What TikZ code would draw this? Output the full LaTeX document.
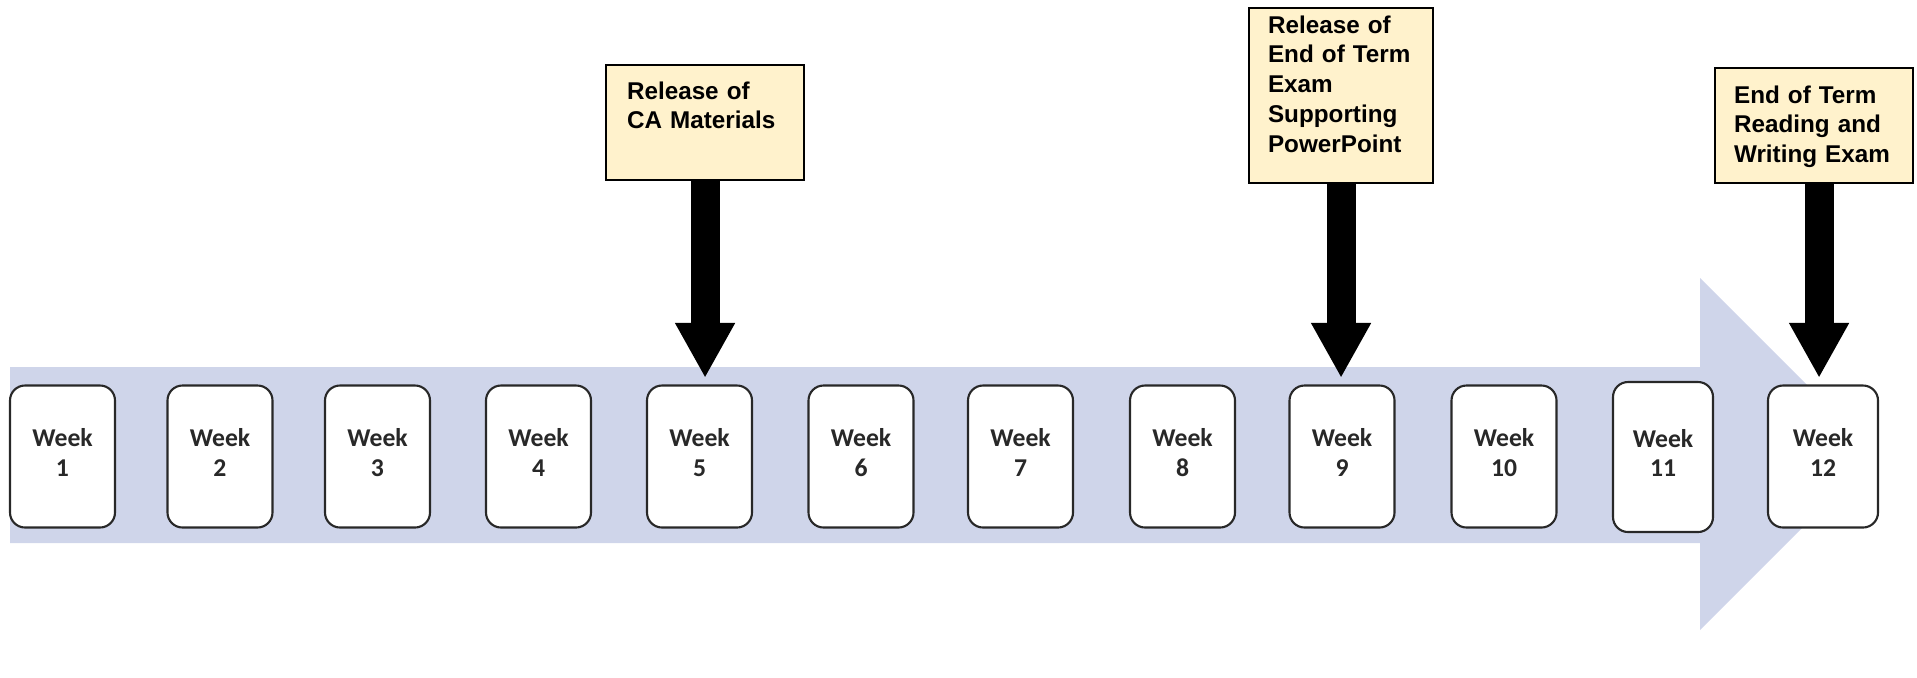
\documentclass[tikz,border=0pt]{standalone}
\usepackage{fontspec}
\usepackage{tikz}
\usetikzlibrary{arrows.meta}
\newfontfamily\weekfont{Carlito}
\newfontfamily\notefont{Liberation Sans}
\definecolor{mlav}{RGB}{207, 213, 234}
\definecolor{myellow}{RGB}{255, 242, 204}
\definecolor{mgrey}{RGB}{40, 40, 40}
\tikzset{week/.style = {draw = mgrey, fill = white, rounded corners = 0.15cm, line width = 0.6pt, minimum width = 1.05cm, minimum height = 1.42cm, inner sep = 0, text depth = 0.08cm, align = center, text = mgrey, font = \weekfont\bfseries\fontsize{7.3}{8.5}\selectfont}}
\tikzset{note/.style = {draw, fill = myellow, line width = 0.6pt, anchor = north west, align = left, inner ysep = 0, font = \notefont\bfseries\fontsize{6.9}{8.5}\selectfont}}
\tikzset{drop/.style = {line width = 0.29cm, -{Triangle[width = 0.56cm, length = 0.55cm]}, shorten > = 0.065cm}}

\begin{document}
\begin{tikzpicture}
      \useasboundingbox (0, 0) rectangle (19.17, 6.77);

      \fill [mlav] (0.10, 3.10) -- (17.00, 3.10) -- (17.00, 3.99) -- (18.76, 2.23) -- (17.00, 0.47) -- (17.00, 1.34) -- (0.10, 1.34) -- cycle;

      \foreach \x [count = \i] in {0.625, 2.20, 3.775, 5.385, 6.995, 8.61, 10.205, 11.825, 13.42, 15.04}
        \node [week] (w\i) at (\x, 2.205) {Week\\\i};
      \node [week, minimum width = 1.00cm, minimum height = 1.50cm] (w11) at (16.63, 2.20) {Week\\11};
      \node [week, minimum width = 1.10cm] (w12) at (18.23, 2.205) {Week\\12};

      \node [note, inner xsep = 0.21cm, text width = 1.56cm, text height = 0.34cm, text depth = 0.81cm] (ca) at (6.05, 6.13) {Release of\\CA Materials};
      \node [note, inner xsep = 0.19cm, text width = 1.46cm, text height = 0.25cm, text depth = 1.50cm] (ppt) at (12.48, 6.70) {Release of\\End of Term\\Exam\\Supporting\\PowerPoint};
      \node [note, inner xsep = 0.19cm, text width = 1.60cm, text height = 0.35cm, text depth = 0.80cm] (exam) at (17.14, 6.10) {End of Term\\Reading and\\Writing Exam};

      \draw [drop] (ca.south) -- (ca.south |- w5.north);
      \draw [drop] (ppt.south) -- (ppt.south |- w9.north);
      \draw [drop] ([xshift = 0.05cm]exam.south) -- ([xshift = 0.05cm]exam.south |- w12.north);
    \end{tikzpicture}
\end{document}
